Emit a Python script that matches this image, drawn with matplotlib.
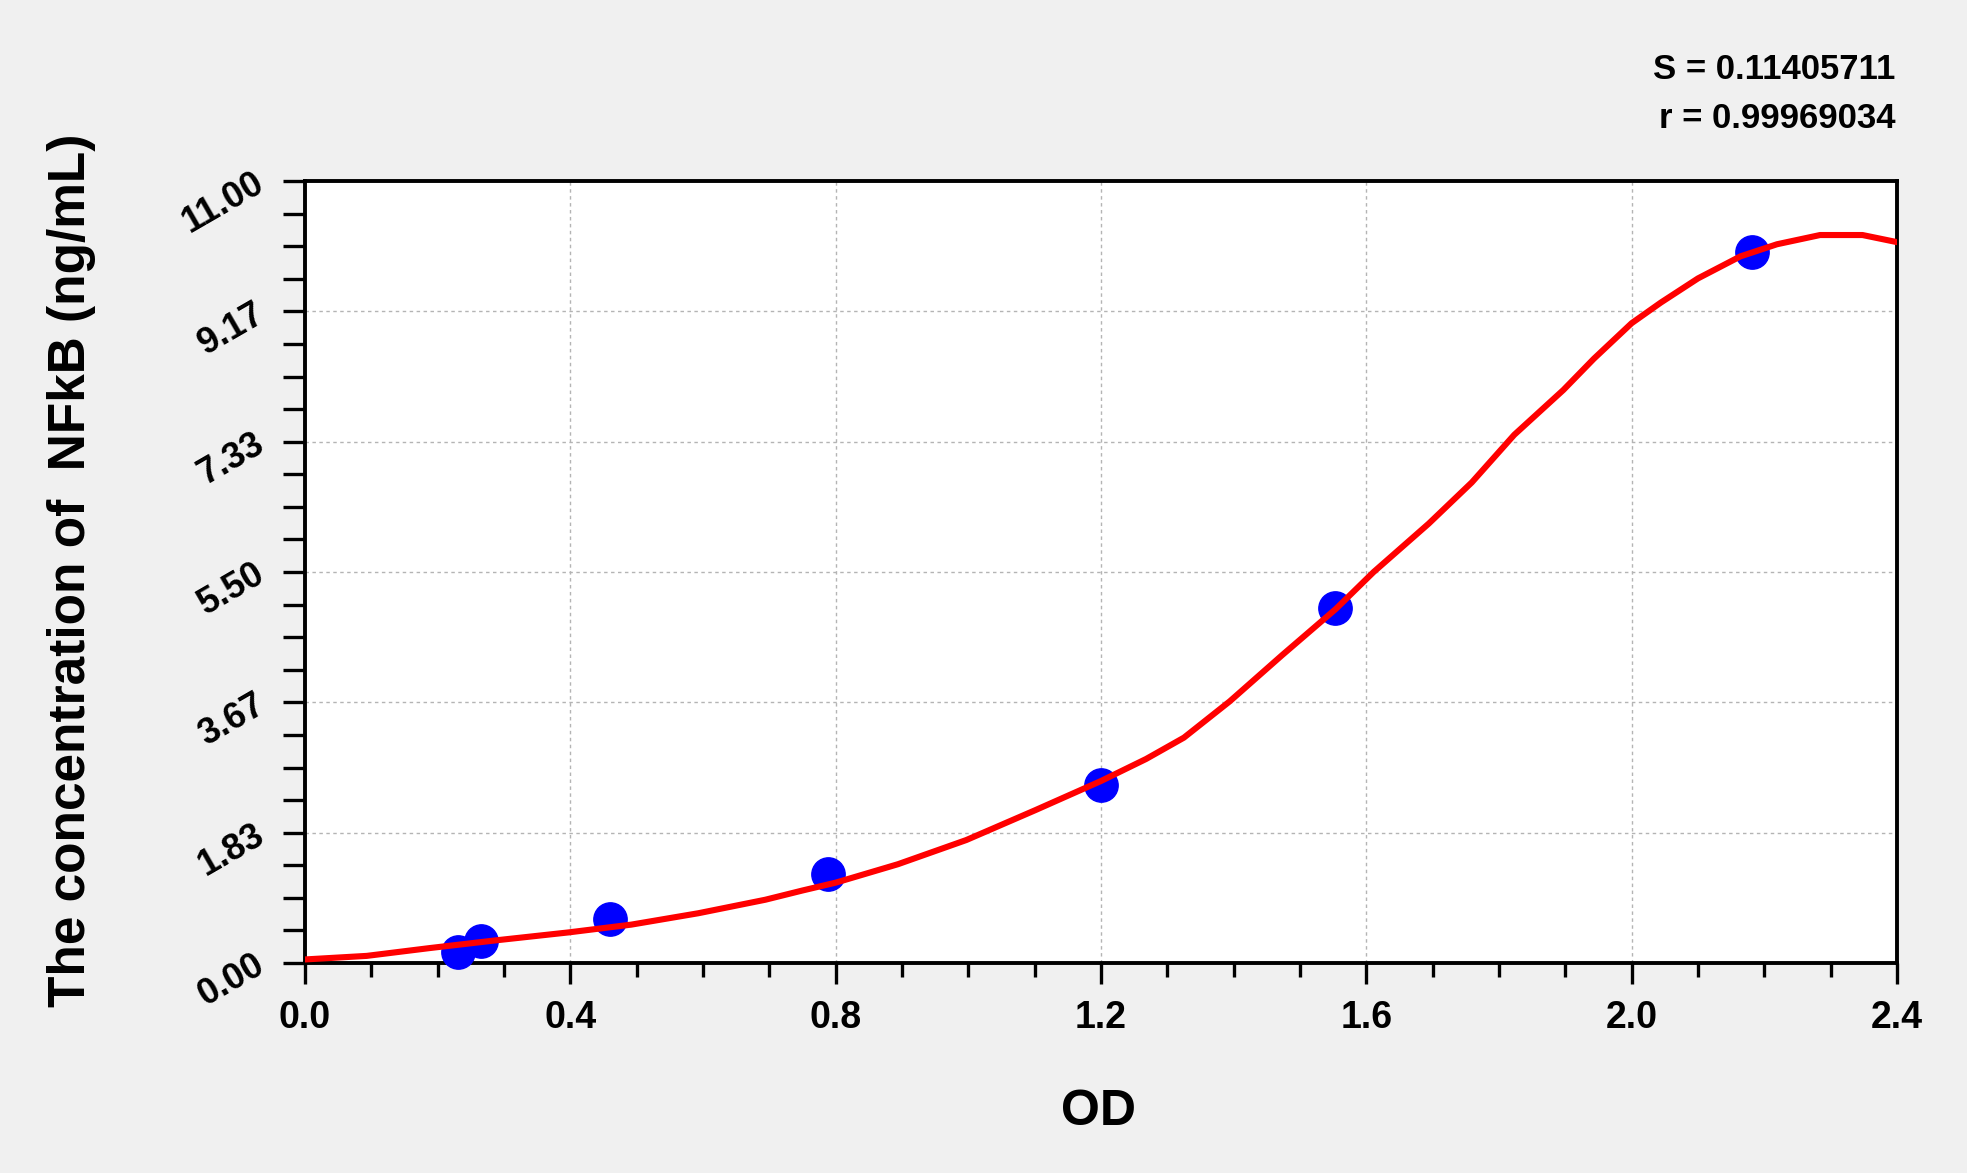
import numpy as np
import matplotlib
matplotlib.use("Agg")
import matplotlib.pyplot as plt
import matplotlib.ticker as mticker

plt.rcParams["font.family"] = ["Liberation Sans", "DejaVu Sans"]
plt.rcParams["font.weight"] = "bold"

# ── Data ────────────────────────────────────────────────────
std_od   = [0.230, 0.265, 0.460, 0.789, 1.200, 1.553, 2.182]
std_conc = [0.156, 0.3125, 0.625, 1.25, 2.50, 5.00, 10.00]

fit_od   = [0.0, 0.093, 0.188, 0.289, 0.397, 0.492, 0.593, 0.694, 0.75, 0.8,
            0.894, 0.997, 1.101, 1.2, 1.268, 1.325, 1.394, 1.473, 1.554,
            1.611, 1.694, 1.759, 1.823, 1.897, 1.943, 2.0, 2.044, 2.1,
            2.164, 2.219, 2.284, 2.348, 2.4]
fit_conc = [0.05, 0.10, 0.21, 0.32, 0.43, 0.54, 0.70, 0.89, 1.02, 1.13,
            1.39, 1.73, 2.15, 2.56, 2.87, 3.17, 3.68, 4.33, 4.98,
            5.50, 6.18, 6.76, 7.43, 8.06, 8.50, 9.00, 9.29, 9.63,
            9.94, 10.11, 10.24, 10.24, 10.14]

x_ticks = [0.0, 0.4, 0.8, 1.2, 1.6, 2.0, 2.4]
y_ticks = [0.0, 11 / 6, 22 / 6, 5.5, 44 / 6, 55 / 6, 11.0]

stat_s = "S = 0.11405711"
stat_r = "r = 0.99969034"

BG = "#f0f0f0"
W, H = 1967, 1173

fig = plt.figure(figsize=(W / 100, H / 100), dpi=100, facecolor=BG)
ax = fig.add_axes([305 / W, 1 - 963 / H, 1592 / W, 782 / H])
ax.set_facecolor("white")

# standards under the fitted curve
ax.plot(std_od, std_conc, "o", color="#0000ff", ms=24, mec="#0000ff",
        zorder=3, clip_on=False)
ax.plot(fit_od, fit_conc, color="#ff0000", lw=4.4, zorder=4,
        solid_joinstyle="round", solid_capstyle="round")

ax.set_xlim(0, 2.4)
ax.set_ylim(0, 11)
ax.set_xticks(x_ticks)
ax.set_yticks(y_ticks)
ax.xaxis.set_major_formatter(mticker.FormatStrFormatter("%.1f"))
ax.yaxis.set_major_formatter(mticker.FormatStrFormatter("%.2f"))
ax.xaxis.set_minor_locator(mticker.MultipleLocator(0.1))
ax.yaxis.set_minor_locator(mticker.MultipleLocator(11 / 24))

ax.grid(True, which="major", color="#b4b4b4", lw=1, linestyle=(0, (2.5, 2.5)))

for sp in ax.spines.values():
    sp.set_linewidth(2.8)
    sp.set_color("black")

ax.tick_params(axis="x", which="major", direction="out", length=15,
               width=2.4, pad=12, labelsize=27)
ax.tick_params(axis="x", which="minor", direction="out", length=10, width=2.4)
ax.tick_params(axis="y", which="both", direction="out", length=16,
               width=2.4)
ax.tick_params(axis="y", which="major", pad=15, labelsize=26)

for lab in ax.get_yticklabels():
    lab.set_rotation(30)
    lab.set_rotation_mode("anchor")
    lab.set_ha("right")
    lab.set_va("center")
    lab.set_fontweight("bold")
for lab in ax.get_xticklabels():
    lab.set_fontweight("bold")

fig.text(72 / W, 1 - 570 / H, "The concentration of  NFkB (ng/mL)",
         rotation=90, ha="center", va="center", fontsize=37, fontweight="bold")
fig.text(1098 / W, 1 - 1112 / H, "OD", ha="center", va="center",
         fontsize=36, fontweight="bold")

fig.text(1895 / W, 1 - 79 / H, stat_s, ha="right", va="baseline",
         fontsize=25, fontweight="bold")
fig.text(1895 / W, 1 - 128 / H, stat_r, ha="right", va="baseline",
         fontsize=25, fontweight="bold")

fig.savefig("out.png", dpi=100, facecolor=BG)
